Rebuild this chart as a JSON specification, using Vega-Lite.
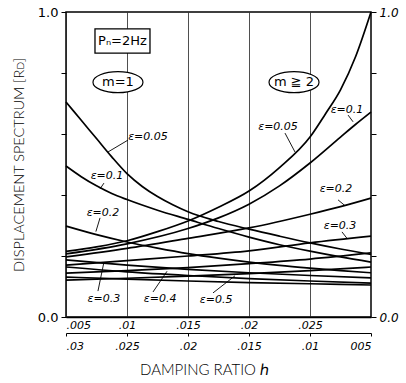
{
  "$schema": "https://vega.github.io/schema/vega-lite/v6.json",
  "width": 305,
  "height": 305,
  "autosize": {"type": "none"},
  "padding": {"left": 66, "top": 12, "right": 35, "bottom": 66},
  "background": "white",
  "config": {
    "view": {"stroke": "black", "strokeWidth": 1.5},
    "font": "DejaVu Sans",
    "axis": {"domainColor": "black", "tickColor": "black", "labelColor": "black", "titleColor": "black", "labelFont": "DejaVu Sans", "titleFont": "Lato", "titleFontWeight": 300}
  },
  "datasets": {
    "curves": [
      {"grp": "m1", "eps": 0.05, "h": 0.005, "v": 0.705},
      {"grp": "m1", "eps": 0.05, "h": 0.00625, "v": 0.645},
      {"grp": "m1", "eps": 0.05, "h": 0.0075, "v": 0.585},
      {"grp": "m1", "eps": 0.05, "h": 0.00875, "v": 0.525},
      {"grp": "m1", "eps": 0.05, "h": 0.01, "v": 0.47},
      {"grp": "m1", "eps": 0.05, "h": 0.01125, "v": 0.428},
      {"grp": "m1", "eps": 0.05, "h": 0.0125, "v": 0.395},
      {"grp": "m1", "eps": 0.05, "h": 0.01375, "v": 0.368},
      {"grp": "m1", "eps": 0.05, "h": 0.015, "v": 0.345},
      {"grp": "m1", "eps": 0.05, "h": 0.0175, "v": 0.313},
      {"grp": "m1", "eps": 0.05, "h": 0.02, "v": 0.288},
      {"grp": "m1", "eps": 0.05, "h": 0.0225, "v": 0.265},
      {"grp": "m1", "eps": 0.05, "h": 0.025, "v": 0.243},
      {"grp": "m1", "eps": 0.05, "h": 0.0275, "v": 0.223},
      {"grp": "m1", "eps": 0.05, "h": 0.03, "v": 0.205},
      {"grp": "m1", "eps": 0.1, "h": 0.005, "v": 0.495},
      {"grp": "m1", "eps": 0.1, "h": 0.00625, "v": 0.46},
      {"grp": "m1", "eps": 0.1, "h": 0.0075, "v": 0.43},
      {"grp": "m1", "eps": 0.1, "h": 0.00875, "v": 0.405},
      {"grp": "m1", "eps": 0.1, "h": 0.01, "v": 0.385},
      {"grp": "m1", "eps": 0.1, "h": 0.0125, "v": 0.35},
      {"grp": "m1", "eps": 0.1, "h": 0.015, "v": 0.32},
      {"grp": "m1", "eps": 0.1, "h": 0.0175, "v": 0.29},
      {"grp": "m1", "eps": 0.1, "h": 0.02, "v": 0.262},
      {"grp": "m1", "eps": 0.1, "h": 0.0225, "v": 0.237},
      {"grp": "m1", "eps": 0.1, "h": 0.025, "v": 0.216},
      {"grp": "m1", "eps": 0.1, "h": 0.0275, "v": 0.197},
      {"grp": "m1", "eps": 0.1, "h": 0.03, "v": 0.18},
      {"grp": "m1", "eps": 0.2, "h": 0.005, "v": 0.298},
      {"grp": "m1", "eps": 0.2, "h": 0.0075, "v": 0.27},
      {"grp": "m1", "eps": 0.2, "h": 0.01, "v": 0.246},
      {"grp": "m1", "eps": 0.2, "h": 0.0125, "v": 0.226},
      {"grp": "m1", "eps": 0.2, "h": 0.015, "v": 0.208},
      {"grp": "m1", "eps": 0.2, "h": 0.0175, "v": 0.193},
      {"grp": "m1", "eps": 0.2, "h": 0.02, "v": 0.18},
      {"grp": "m1", "eps": 0.2, "h": 0.0225, "v": 0.169},
      {"grp": "m1", "eps": 0.2, "h": 0.025, "v": 0.16},
      {"grp": "m1", "eps": 0.2, "h": 0.0275, "v": 0.152},
      {"grp": "m1", "eps": 0.2, "h": 0.03, "v": 0.145},
      {"grp": "m1", "eps": 0.3, "h": 0.005, "v": 0.187},
      {"grp": "m1", "eps": 0.3, "h": 0.01, "v": 0.17},
      {"grp": "m1", "eps": 0.3, "h": 0.015, "v": 0.156},
      {"grp": "m1", "eps": 0.3, "h": 0.02, "v": 0.145},
      {"grp": "m1", "eps": 0.3, "h": 0.025, "v": 0.136},
      {"grp": "m1", "eps": 0.3, "h": 0.03, "v": 0.128},
      {"grp": "m1", "eps": 0.4, "h": 0.005, "v": 0.164},
      {"grp": "m1", "eps": 0.4, "h": 0.01, "v": 0.148},
      {"grp": "m1", "eps": 0.4, "h": 0.015, "v": 0.136},
      {"grp": "m1", "eps": 0.4, "h": 0.02, "v": 0.126},
      {"grp": "m1", "eps": 0.4, "h": 0.025, "v": 0.118},
      {"grp": "m1", "eps": 0.4, "h": 0.03, "v": 0.111},
      {"grp": "m1", "eps": 0.5, "h": 0.005, "v": 0.131},
      {"grp": "m1", "eps": 0.5, "h": 0.01, "v": 0.124},
      {"grp": "m1", "eps": 0.5, "h": 0.015, "v": 0.118},
      {"grp": "m1", "eps": 0.5, "h": 0.02, "v": 0.113},
      {"grp": "m1", "eps": 0.5, "h": 0.025, "v": 0.109},
      {"grp": "m1", "eps": 0.5, "h": 0.03, "v": 0.105},
      {"grp": "m2", "eps": 0.05, "h": 0.03, "v": 0.215},
      {"grp": "m2", "eps": 0.05, "h": 0.0275, "v": 0.23},
      {"grp": "m2", "eps": 0.05, "h": 0.025, "v": 0.25},
      {"grp": "m2", "eps": 0.05, "h": 0.0225, "v": 0.28},
      {"grp": "m2", "eps": 0.05, "h": 0.02, "v": 0.315},
      {"grp": "m2", "eps": 0.05, "h": 0.0175, "v": 0.36},
      {"grp": "m2", "eps": 0.05, "h": 0.015, "v": 0.413},
      {"grp": "m2", "eps": 0.05, "h": 0.0125, "v": 0.49},
      {"grp": "m2", "eps": 0.05, "h": 0.01, "v": 0.59},
      {"grp": "m2", "eps": 0.05, "h": 0.00875, "v": 0.665},
      {"grp": "m2", "eps": 0.05, "h": 0.0075, "v": 0.745},
      {"grp": "m2", "eps": 0.05, "h": 0.00625, "v": 0.855},
      {"grp": "m2", "eps": 0.05, "h": 0.005, "v": 1.0},
      {"grp": "m2", "eps": 0.1, "h": 0.03, "v": 0.207},
      {"grp": "m2", "eps": 0.1, "h": 0.025, "v": 0.24},
      {"grp": "m2", "eps": 0.1, "h": 0.02, "v": 0.29},
      {"grp": "m2", "eps": 0.1, "h": 0.0175, "v": 0.325},
      {"grp": "m2", "eps": 0.1, "h": 0.015, "v": 0.37},
      {"grp": "m2", "eps": 0.1, "h": 0.0125, "v": 0.43},
      {"grp": "m2", "eps": 0.1, "h": 0.01, "v": 0.505},
      {"grp": "m2", "eps": 0.1, "h": 0.0075, "v": 0.59},
      {"grp": "m2", "eps": 0.1, "h": 0.00625, "v": 0.632},
      {"grp": "m2", "eps": 0.1, "h": 0.005, "v": 0.672},
      {"grp": "m2", "eps": 0.2, "h": 0.03, "v": 0.197},
      {"grp": "m2", "eps": 0.2, "h": 0.025, "v": 0.225},
      {"grp": "m2", "eps": 0.2, "h": 0.02, "v": 0.258},
      {"grp": "m2", "eps": 0.2, "h": 0.015, "v": 0.292},
      {"grp": "m2", "eps": 0.2, "h": 0.01, "v": 0.337},
      {"grp": "m2", "eps": 0.2, "h": 0.0075, "v": 0.362},
      {"grp": "m2", "eps": 0.2, "h": 0.005, "v": 0.39},
      {"grp": "m2", "eps": 0.3, "h": 0.03, "v": 0.17},
      {"grp": "m2", "eps": 0.3, "h": 0.025, "v": 0.185},
      {"grp": "m2", "eps": 0.3, "h": 0.02, "v": 0.2},
      {"grp": "m2", "eps": 0.3, "h": 0.015, "v": 0.217},
      {"grp": "m2", "eps": 0.3, "h": 0.01, "v": 0.243},
      {"grp": "m2", "eps": 0.3, "h": 0.005, "v": 0.265},
      {"grp": "m2", "eps": 0.4, "h": 0.03, "v": 0.144},
      {"grp": "m2", "eps": 0.4, "h": 0.025, "v": 0.152},
      {"grp": "m2", "eps": 0.4, "h": 0.02, "v": 0.162},
      {"grp": "m2", "eps": 0.4, "h": 0.015, "v": 0.175},
      {"grp": "m2", "eps": 0.4, "h": 0.01, "v": 0.19},
      {"grp": "m2", "eps": 0.4, "h": 0.005, "v": 0.21},
      {"grp": "m2", "eps": 0.5, "h": 0.03, "v": 0.121},
      {"grp": "m2", "eps": 0.5, "h": 0.025, "v": 0.127},
      {"grp": "m2", "eps": 0.5, "h": 0.02, "v": 0.134},
      {"grp": "m2", "eps": 0.5, "h": 0.015, "v": 0.142},
      {"grp": "m2", "eps": 0.5, "h": 0.01, "v": 0.152},
      {"grp": "m2", "eps": 0.5, "h": 0.005, "v": 0.164}
    ],
    "notes": [
      {"kind": "box", "label": "Pₙ=2Hz", "h": 0.00963, "v": 0.905},
      {"kind": "ell", "label": "m=1", "h": 0.00926, "v": 0.77},
      {"kind": "ell", "label": "m ≧ 2", "h": 0.02369, "v": 0.77},
      {"kind": "eps", "label": "ε=0.05", "h": 0.01172, "v": 0.59},
      {"kind": "eps", "label": "ε=0.1", "h": 0.00836, "v": 0.462},
      {"kind": "eps", "label": "ε=0.2", "h": 0.00803, "v": 0.341},
      {"kind": "eps", "label": "ε=0.3", "h": 0.00811, "v": 0.059},
      {"kind": "eps", "label": "ε=0.4", "h": 0.01271, "v": 0.059},
      {"kind": "eps", "label": "ε=0.5", "h": 0.0173, "v": 0.056},
      {"kind": "eps", "label": "ε=0.05", "h": 0.02238, "v": 0.623},
      {"kind": "eps", "label": "ε=0.1", "h": 0.02803, "v": 0.679},
      {"kind": "eps", "label": "ε=0.2", "h": 0.02713, "v": 0.42},
      {"kind": "eps", "label": "ε=0.3", "h": 0.02746, "v": 0.298}
    ],
    "leaders": [
      {"h": 0.01008, "v": 0.58, "h2": 0.00844, "v2": 0.541},
      {"h": 0.00811, "v": 0.439, "h2": 0.00779, "v2": 0.42},
      {"h": 0.00779, "v": 0.325, "h2": 0.00745, "v2": 0.28},
      {"h": 0.00762, "v": 0.085, "h2": 0.00811, "v2": 0.18},
      {"h": 0.01213, "v": 0.082, "h2": 0.01328, "v2": 0.15},
      {"h": 0.01705, "v": 0.079, "h2": 0.01885, "v2": 0.135},
      {"h": 0.02295, "v": 0.603, "h2": 0.02377, "v2": 0.541},
      {"h": 0.02812, "v": 0.662, "h2": 0.02853, "v2": 0.64},
      {"h": 0.0273, "v": 0.384, "h2": 0.02787, "v2": 0.365},
      {"h": 0.02762, "v": 0.279, "h2": 0.02803, "v2": 0.258}
    ]
  },
  "layer": [
    {
      "layer": [
        {
          "data": {"name": "curves"},
          "transform": [{"filter": "datum.grp == 'm1'"}],
          "mark": {"type": "line", "color": "black", "strokeWidth": 1.7, "interpolate": "monotone"},
          "encoding": {
            "x": {"field": "h", "type": "quantitative", "scale": {"domain": [0.005, 0.03], "nice": false, "zero": false},
              "axis": {"orient": "bottom", "values": [0.005, 0.01, 0.015, 0.02, 0.025], "labelExpr": "replace(format(datum.value, '.3~f'), '0.', '.')", "grid": true, "gridColor": "#222", "gridWidth": 0.8, "ticks": false, "domainWidth": 1.5, "labelPadding": 2, "labelFontSize": 11, "labelFontStyle": "italic", "labelDx": 5, "title": null}},
            "y": {"field": "v", "type": "quantitative", "scale": {"domain": [0, 1], "nice": false, "zero": false},
              "axis": {"orient": "left", "values": [0, 0.1, 0.2, 0.3, 0.4, 0.5, 0.6, 0.7, 0.8, 0.9, 1], "labelExpr": "datum.value == 0 || datum.value == 0.5 || datum.value == 1 ? format(datum.value, '.1f') : ''", "tickSize": 5, "domain": false, "grid": false, "labelFontSize": 13, "labelPadding": 3, "title": "DISPLACEMENT SPECTRUM [Rᴅ]", "titleFontSize": 14.5, "titleFontWeight": 300, "titleX": -47, "titleBaseline": "middle"}},
            "detail": {"field": "eps"}
          }
        },
        {
          "mark": {"type": "rule", "color": "#222", "strokeWidth": 0.8},
          "encoding": {"y": {"datum": 0.5}}
        },
        {
          "data": {"name": "leaders"},
          "mark": {"type": "rule", "color": "black", "strokeWidth": 0.9},
          "encoding": {
            "x": {"field": "h", "type": "quantitative"},
            "y": {"field": "v", "type": "quantitative"},
            "x2": {"field": "h2"},
            "y2": {"field": "v2"}
          }
        },
        {
          "data": {"name": "notes"},
          "transform": [{"filter": "datum.kind == 'box'"}],
          "mark": {"type": "point", "shape": "M-1,-0.44L1,-0.44L1,0.44L-1,0.44Z", "size": 3025, "filled": true, "fill": "white", "stroke": "black", "strokeWidth": 1.3, "opacity": 1},
          "encoding": {"x": {"field": "h", "type": "quantitative"}, "y": {"field": "v", "type": "quantitative"}}
        },
        {
          "data": {"name": "notes"},
          "transform": [{"filter": "datum.kind == 'ell'"}],
          "mark": {"type": "point", "shape": "M-1,0A1,0.42,0,1,0,1,0A1,0.42,0,1,0,-1,0Z", "size": 2500, "filled": true, "fill": "white", "stroke": "black", "strokeWidth": 1.2, "opacity": 1},
          "encoding": {"x": {"field": "h", "type": "quantitative"}, "y": {"field": "v", "type": "quantitative"}}
        },
        {
          "data": {"name": "notes"},
          "transform": [{"filter": "datum.kind != 'eps'"}],
          "mark": {"type": "text", "fontSize": 13, "color": "black", "align": "center", "baseline": "middle"},
          "encoding": {"x": {"field": "h", "type": "quantitative"}, "y": {"field": "v", "type": "quantitative"}, "text": {"field": "label"}}
        },
        {
          "data": {"name": "notes"},
          "transform": [{"filter": "datum.kind == 'eps'"}],
          "mark": {"type": "text", "fontSize": 11, "fontStyle": "italic", "color": "black", "align": "center", "baseline": "middle"},
          "encoding": {"x": {"field": "h", "type": "quantitative"}, "y": {"field": "v", "type": "quantitative"}, "text": {"field": "label"}}
        },
        {
          "mark": {"type": "point", "shape": "M-1,-0.4L1,0L-1,0.4Z", "size": 110, "filled": true, "color": "black", "opacity": 1, "xOffset": -5},
          "encoding": {"x": {"datum": 0.03}, "y": {"datum": 0}}
        }
      ]
    },
    {
      "layer": [
        {
          "data": {"name": "curves"},
          "transform": [{"filter": "datum.grp == 'm2'"}],
          "mark": {"type": "line", "color": "black", "strokeWidth": 1.7, "interpolate": "monotone"},
          "encoding": {
            "x": {"field": "h", "type": "quantitative", "scale": {"domain": [0.005, 0.03], "nice": false, "zero": false, "reverse": true},
              "axis": {"orient": "bottom", "offset": 16, "values": [0.005, 0.01, 0.015, 0.02, 0.025, 0.03], "labelExpr": "datum.value < 0.006 ? '005' : replace(format(datum.value, '.3~f'), '0.', '.')", "grid": false, "tickSize": 3, "domainWidth": 1.2, "labelPadding": 4, "labelFontSize": 11, "labelFontStyle": "italic", "labelDx": 4, "title": "DAMPING RATIO ℎ", "titleFontSize": 15, "titleFontWeight": 300, "titleX": 138, "titleY": 36, "titleBaseline": "middle"}},
            "y": {"field": "v", "type": "quantitative",
              "axis": {"orient": "right", "values": [0, 0.1, 0.2, 0.3, 0.4, 0.5, 0.6, 0.7, 0.8, 0.9, 1], "labelExpr": "datum.value == 0 || datum.value == 0.5 || datum.value == 1 ? format(datum.value, '.1f') : ''", "tickSize": 5, "domain": false, "grid": false, "labelFontSize": 12, "labelFontStyle": "italic", "labelPadding": 3, "title": null}},
            "detail": {"field": "eps"},
            "order": {"field": "h", "sort": "descending"}
          }
        },
        {
          "mark": {"type": "rule", "color": "black", "strokeWidth": 1.5, "y2Offset": 16},
          "encoding": {"x": {"datum": 0.005}, "y": {"datum": 0}, "y2": {"datum": 0}}
        },
        {
          "mark": {"type": "point", "shape": "M1,-0.4L-1,0L1,0.4Z", "size": 110, "filled": true, "color": "black", "opacity": 1, "xOffset": 5, "yOffset": 16},
          "encoding": {"x": {"datum": 0.03}, "y": {"datum": 0}}
        }
      ]
    }
  ],
  "resolve": {"scale": {"x": "independent"}, "axis": {"y": "independent"}}
}
